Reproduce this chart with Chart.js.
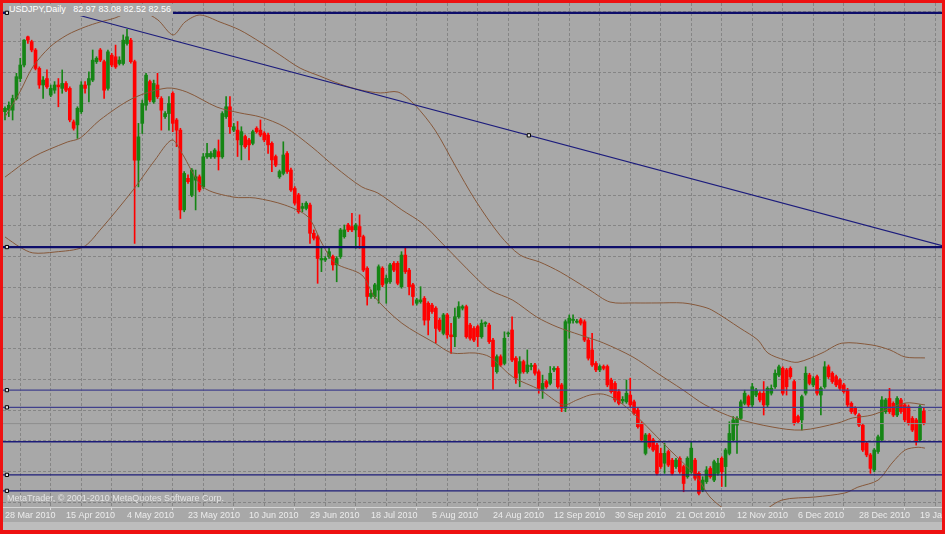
<!DOCTYPE html>
<html>
<head>
<title>USDJPY Daily</title>
<style>
  body { margin: 0; background: #ee1111; width: 945px; height: 534px; overflow: hidden; }
  #frame { position: absolute; left: 3px; top: 3px; width: 939px; height: 527px; background: #bdbdbd; }
  #c { position: absolute; left: 0; top: 0; background: #a8a8a8; }
  #title {
    position: absolute; left: 6px; top: 1px; height: 12px; line-height: 12px;
    padding-right: 2px; background: #a8a8a8; color: #ffffff;
    font: 9px "Liberation Sans", Arial, sans-serif; white-space: pre;
  }
  #copy {
    position: absolute; left: 4px; top: 490px; line-height: 11px; color: #e4e4e4;
    font: 9px "Liberation Sans", Arial, sans-serif; white-space: pre;
  }
</style>
<script src="https://cdn.jsdelivr.net/npm/chart.js"></script>
</head>
<body>
<div id="frame">
  <canvas id="c" width="939" height="519"></canvas>
  <div id="title">USDJPY,Daily   82.97 83.08 82.52 82.56</div>
  <div id="copy">MetaTrader, © 2001-2010 MetaQuotes Software Corp.</div>
</div>
<script>
// date labels, one every 16 bars
const dates = ['28 Mar 2010', '15 Apr 2010', '4 May 2010', '23 May 2010', '10 Jun 2010', '29 Jun 2010',
  '18 Jul 2010', '5 Aug 2010', '24 Aug 2010', '12 Sep 2010', '30 Sep 2010', '21 Oct 2010',
  '12 Nov 2010', '6 Dec 2010', '28 Dec 2010', '19 Jan 2011'];

const opens = [
  92.72,92.77,92.77,93.15,93.80,94.24,95.16,95.00,94.73,94.13,
  93.59,93.80,93.26,93.42,93.59,93.48,93.64,93.48,92.39,92.29,
  92.72,93.59,93.59,93.75,94.35,94.73,94.35,93.48,94.56,94.51,
  94.29,94.29,94.94,95.05,94.35,91.14,92.34,92.93,93.70,93.04,
  93.59,93.15,92.56,92.66,93.32,92.45,92.12,89.52,90.55,90.00,
  90.49,90.60,90.27,91.25,91.25,91.25,91.42,91.25,92.56,92.88,
  92.12,92.12,91.64,91.91,91.80,91.69,92.18,92.12,92.02,91.96,
  91.69,91.26,90.60,90.71,91.36,90.82,90.22,90.01,89.57,89.57,
  89.68,88.76,88.65,87.89,87.89,88.00,88.00,87.73,88.00,88.65,
  89.03,88.98,88.87,88.98,88.65,87.62,86.70,86.70,86.91,87.62,
  87.13,87.18,87.78,87.78,87.02,88.05,87.56,87.08,86.48,86.53,
  86.64,86.48,86.42,86.32,85.93,85.50,86.10,85.45,85.39,86.04,
  86.32,86.37,85.77,85.66,85.72,85.39,85.81,85.77,85.28,84.25,
  84.74,84.52,85.48,85.61,84.69,84.20,84.58,84.25,84.42,84.47,
  84.25,83.67,83.93,83.87,84.31,84.36,83.82,83.06,85.83,85.92,
  85.86,85.94,85.88,85.28,84.96,84.52,84.31,84.42,84.42,83.98,
  83.87,83.60,83.30,83.27,83.49,83.27,83.00,82.57,81.59,82.19,
  82.03,81.86,81.59,81.27,81.65,81.37,81.16,81.43,81.16,80.83,
  80.99,81.37,80.94,80.40,80.67,81.10,80.72,80.94,81.43,81.16,
  81.59,82.03,82.51,82.73,83.22,83.44,83.17,83.49,83.55,83.55,
  83.17,83.55,83.76,84.14,84.36,84.31,84.36,83.93,82.79,82.68,
  83.55,84.14,83.82,84.09,83.49,83.76,84.41,84.20,84.09,83.98,
  83.82,83.65,83.22,83.06,82.84,82.51,81.92,81.54,81.05,81.65,
  82.03,82.95,83.38,83.22,82.84,83.33,83.17,83.11,82.73,82.68,
  82.03,82.97
];
const highs = [
  92.88,93.04,93.26,93.97,94.46,95.07,95.18,95.05,94.78,94.18,
  93.86,94.08,93.59,93.70,93.80,94.08,93.70,93.53,92.45,92.88,
  93.70,93.70,94.02,94.73,94.51,94.78,94.40,94.73,94.62,94.89,
  94.51,95.22,95.40,95.11,94.40,92.34,93.10,93.97,93.75,93.75,
  93.97,93.21,92.72,93.21,93.37,92.50,92.18,90.77,90.66,90.87,
  90.82,90.66,91.36,91.69,91.42,91.52,91.80,92.72,93.21,93.21,
  92.34,92.40,92.23,91.96,91.85,92.12,92.23,92.45,92.07,92.02,
  91.74,91.31,90.82,91.74,91.42,90.88,90.28,90.06,89.74,89.79,
  89.74,88.87,88.70,88.32,88.00,88.27,88.05,88.00,88.92,89.03,
  89.08,89.41,89.08,89.36,88.70,87.67,86.91,87.13,87.73,87.67,
  87.40,87.78,87.84,87.84,88.16,88.32,87.62,87.13,86.64,87.02,
  86.70,86.53,86.48,86.37,85.99,86.15,86.15,85.83,86.32,86.53,
  86.42,86.42,85.83,85.72,85.77,85.94,85.88,85.83,85.34,84.80,
  84.80,85.55,85.55,86.04,84.74,84.74,84.63,84.96,84.52,84.52,
  84.31,84.14,83.98,84.42,84.42,84.42,83.87,85.94,86.10,86.10,
  85.96,85.99,85.94,85.34,85.50,84.58,84.47,84.47,84.47,84.04,
  83.93,83.67,83.44,83.98,84.04,83.33,83.06,82.62,82.24,82.24,
  82.08,81.92,81.76,81.92,81.70,81.43,81.43,81.48,81.21,81.48,
  81.97,81.43,80.99,80.83,81.16,81.16,81.37,81.43,81.48,81.75,
  82.62,82.79,82.79,83.33,83.65,83.49,83.87,83.71,83.60,83.93,
  83.76,83.82,84.31,84.47,84.41,84.36,84.41,83.98,82.84,83.49,
  84.41,84.20,84.09,84.14,83.76,84.58,84.47,84.25,84.14,84.03,
  83.87,83.71,83.27,83.11,82.89,82.57,81.97,81.59,81.75,82.19,
  83.44,83.38,83.71,83.27,83.44,83.38,83.22,83.17,82.79,82.73,
  83.17,83.08
];
const lows = [
  92.45,92.56,92.45,93.10,93.70,94.18,94.94,94.67,94.08,93.48,
  93.15,93.48,93.21,93.32,92.88,93.32,93.37,92.39,92.12,91.85,
  92.66,93.32,93.04,93.70,94.29,94.35,93.15,93.42,94.18,94.13,
  94.24,94.24,94.89,94.30,88.43,90.27,92.01,92.77,93.04,92.99,
  93.15,92.12,92.50,92.12,92.07,91.58,89.24,89.46,90.38,89.95,
  89.52,90.11,90.22,91.20,91.20,91.20,90.82,91.20,92.50,92.01,
  92.07,91.26,91.15,91.53,91.15,91.64,92.02,91.91,91.74,91.36,
  90.77,90.93,90.55,90.66,90.71,90.12,89.68,89.41,89.46,89.52,
  88.43,88.54,87.13,87.51,87.84,87.94,87.56,87.18,87.94,88.60,
  88.81,88.81,88.27,88.27,87.51,86.42,86.64,86.64,86.48,87.02,
  86.48,87.13,87.51,87.08,86.97,87.45,86.75,86.42,86.42,86.48,
  85.77,85.45,86.15,85.18,85.56,85.45,85.34,84.85,85.07,85.99,
  86.26,85.34,85.28,85.23,85.07,85.34,85.72,85.17,83.67,84.20,
  84.42,84.47,85.39,84.58,83.87,83.76,84.20,84.20,84.31,84.14,
  83.55,83.38,83.71,83.82,84.25,83.71,82.95,82.95,85.34,85.83,
  85.83,85.77,85.23,84.63,84.42,84.25,84.25,84.31,83.76,83.55,
  83.27,83.17,83.22,83.22,83.11,82.84,82.41,81.97,81.54,81.76,
  81.65,80.89,81.10,80.94,81.16,80.89,81.10,80.94,80.34,80.78,
  80.94,80.72,80.24,80.34,80.61,80.78,80.67,80.88,80.51,80.51,
  81.54,81.97,81.59,82.68,83.17,83.11,83.11,83.44,83.27,82.84,
  83.11,83.49,83.71,84.09,83.49,83.49,84.03,82.51,82.57,82.35,
  83.49,83.82,83.76,83.49,82.84,83.71,84.03,83.87,83.76,83.65,
  83.55,83.11,82.89,82.84,82.46,81.65,81.48,80.94,80.99,81.59,
  81.97,82.89,82.89,82.79,82.79,82.89,82.62,82.51,82.30,81.86,
  81.97,82.52
];
const closes = [
  92.83,92.93,93.15,93.86,94.24,95.05,95.05,94.73,94.13,93.59,
  93.75,93.53,93.48,93.59,93.53,93.64,93.42,92.45,92.18,92.83,
  93.59,93.48,93.80,94.40,94.46,94.40,93.42,94.67,94.24,94.18,
  94.40,95.05,95.16,94.35,91.14,91.90,92.99,93.91,93.10,93.64,
  93.21,92.77,92.66,92.99,92.34,92.12,89.52,90.71,90.44,90.82,
  90.60,90.17,91.25,91.36,91.36,91.47,91.25,92.66,92.88,92.23,
  92.23,91.80,92.07,91.58,91.64,92.07,92.07,91.96,91.80,91.64,
  91.15,90.98,90.77,91.31,90.77,90.17,89.74,89.46,89.63,89.74,
  88.76,88.60,87.94,87.94,87.94,88.16,87.73,87.94,88.87,88.87,
  88.87,88.87,89.03,88.65,87.56,86.70,86.80,87.08,87.67,87.08,
  87.29,87.73,87.56,87.13,88.05,87.51,87.02,86.70,86.59,86.59,
  85.93,85.93,86.21,85.66,85.61,86.10,85.45,85.39,86.04,86.37,
  86.37,85.39,85.34,85.28,85.39,85.83,85.85,85.23,84.42,84.74,
  84.47,85.34,85.50,84.63,84.04,84.58,84.25,84.47,84.45,84.20,
  83.71,83.87,83.76,84.20,84.36,83.76,83.06,85.88,85.99,85.96,
  85.90,85.83,85.28,84.69,84.47,84.31,84.42,84.36,83.82,83.60,
  83.33,83.22,83.35,83.55,83.17,82.89,82.46,82.03,82.19,81.81,
  81.70,80.94,81.16,81.59,81.21,80.94,81.37,80.99,80.61,81.43,
  81.76,80.78,80.29,80.72,81.05,80.83,81.32,81.27,80.99,81.70,
  82.24,82.68,82.73,83.27,83.55,83.17,83.76,83.65,83.33,83.17,
  83.71,83.71,84.20,84.41,83.55,83.76,84.09,82.57,82.62,83.44,
  84.20,83.87,84.03,83.55,83.71,84.41,84.09,83.93,83.82,83.71,
  83.60,83.17,82.95,82.89,82.51,81.70,81.54,81.10,81.70,82.13,
  83.33,83.33,82.95,82.84,83.38,82.95,82.68,82.57,82.35,81.97,
  83.11,82.56
];

// Bollinger bands: [bar index, price]
const upperBand = [[0,92.55],[3.9,93.36],[7.3,94.18],[11.8,94.83],[16.3,95.22],[21,95.48],[24.9,95.64],
  [28.8,95.77],[32.8,95.97],[36.2,95.97],[40.1,95.71],[44.1,95.22],[47.2,95.64],[51.1,95.87],[56.4,95.64],
  [61.6,95.38],[66.9,94.99],[72.1,94.57],[77.4,94.14],[82.6,93.88],[87.9,93.62],[93.1,93.43],[98.4,93.33],
  [103.1,93.36],[107.5,92.94],[112.8,92.12],[118,90.98],[123.3,89.85],[129.8,88.7],[135.1,88.05],
  [140.3,87.82],[145.6,87.5],[153.4,86.91],[158.7,86.52],[165.2,86.49],[171,86.49],[177.8,86.49],
  [182.3,86.39],[185.4,86.26],[192.8,85.67],[197.5,85.28],[200.1,84.86],[204.6,84.63],[208,84.56],
  [214.3,84.86],[219.5,85.18],[227.4,85.12],[232.1,84.96],[236.1,84.73],[241.3,84.7]];
const middleBand = [[0,90.59],[7.3,91.24],[16.3,91.73],[19.7,91.86],[24.9,92.45],[33.6,93.16],[42.5,93.49],
  [47.7,93.36],[55.6,92.87],[61.6,92.68],[66.9,92.55],[73.4,92.22],[80.5,91.57],[86.6,90.92],[93.6,90.27],
  [97.8,90.07],[104.1,89.52],[109.4,89.09],[114.6,88.44],[123.3,87.34],[127.2,86.91],[133.2,86.58],
  [139.5,86.03],[144.8,85.71],[150.8,85.45],[156.9,85.19],[164.7,84.73],[171,84.21],[177.8,83.66],
  [183.6,83.17],[191.5,82.74],[201.2,82.45],[209,82.35],[218.5,82.58],[222.2,82.74],[227.4,82.84],
  [236.1,83.23],[241.3,83.17]];
const lowerBand = [[0,88.64],[3.9,88.31],[7.3,88.12],[13.1,88.15],[20.5,88.31],[24.9,88.86],[33.6,90.17],
  [39.3,91.14],[43.8,91.8],[46.4,91.37],[51.9,90.27],[59.8,89.94],[65.6,89.91],[73.4,89.68],[79.5,89.29],
  [83.1,88.44],[86.6,87.79],[93.6,87.4],[97,86.68],[104.1,85.83],[112.8,85.18],[117.2,84.86],[123.3,84.86],
  [127.2,84.73],[133.2,84.08],[140.3,83.66],[146.4,83.17],[150,83.33],[153.4,83.49],[156.9,83.52],
  [160.5,83.33],[165.8,82.78],[171,82.13],[174.4,81.7],[181.5,80.82],[184.9,80.17],[190.2,79.68],
  [196.7,79.58],[203.8,80.07],[212.5,80.17],[220.3,80.3],[223.7,80.49],[229,80.72],[232.7,81.28],
  [236.1,81.7],[239.5,81.79],[241.3,81.76]];

// horizontal levels and the trend line
const levels = [95.94, 88.31, 83.65, 83.09, 81.97, 80.89, 80.37];
const trendLine = [[19.15, 95.87], [250, 88.22]];
const trendMid = [137.4, 91.95];
const priceGrid = [80, 81, 82, 83, 84, 85, 86, 87, 88, 89, 90, 91, 92, 93, 94, 95, 96];

const X_MIN = -0.5246, X_MAX = 245.77;
const Y_MIN = 79.8436, Y_MAX = 96.2606;
const FONT = '"Liberation Sans", Arial, sans-serif';

const UP = '#158515', DOWN = '#ff0000';
const candleColors = closes.map((c, i) => c >= opens[i] ? UP : DOWN);
const toXY = a => a.map(p => ({x: p[0], y: p[1]}));

const levelSets = levels.map((v, i) => ({
  type: 'line',
  data: [{x: X_MIN - 2, y: v}, {x: X_MAX + 2, y: v}],
  borderColor: i < 2 ? '#0d0d6a' : (i < 4 ? '#40408c' : '#1c1c78'),
  borderWidth: i < 2 ? 2.2 : 1.4,
  pointRadius: 0,
  order: 1
}));

const anchors = levels.filter((v, i) => i !== 4).map(v => ({x: 0.5, y: v}));
anchors.push({x: trendMid[0], y: trendMid[1]});

new Chart(document.getElementById('c'), {
  type: 'bar',
  data: {
    datasets: [
      {
        type: 'line', data: anchors, showLine: false, pointStyle: 'rect',
        pointRadius: 2.3, pointBackgroundColor: '#e6e6e6', pointBorderColor: '#000000',
        pointBorderWidth: 1, order: 0
      },
      ...levelSets,
      {
        type: 'line', data: toXY(trendLine), borderColor: '#1c1c7c', borderWidth: 1.2,
        pointRadius: 0, order: 1
      },
      { type: 'line', data: toXY(upperBand), borderColor: '#86583a', borderWidth: 1, pointRadius: 0, tension: 0.3, order: 2 },
      { type: 'line', data: toXY(middleBand), borderColor: '#86583a', borderWidth: 1, pointRadius: 0, tension: 0.3, order: 2 },
      { type: 'line', data: toXY(lowerBand), borderColor: '#86583a', borderWidth: 1, pointRadius: 0, tension: 0.3, order: 2 },
      {
        type: 'line',
        data: [{x: X_MIN - 2, y: closes[closes.length - 1]}, {x: X_MAX + 2, y: closes[closes.length - 1]}],
        borderColor: '#8e8e8e', borderWidth: 1, pointRadius: 0, order: 3
      },
      {
        type: 'bar', data: opens.map((o, i) => ({x: i, y: [o, closes[i]]})),
        backgroundColor: candleColors, borderWidth: 0, barThickness: 3, grouped: false,
        minBarLength: 1, order: 4
      },
      {
        type: 'bar', data: opens.map((o, i) => ({x: i, y: [lows[i], highs[i]]})),
        backgroundColor: candleColors, borderWidth: 0, barThickness: 1, grouped: false,
        order: 5
      }
    ]
  },
  options: {
    responsive: false,
    animation: false,
    events: [],
    layout: { padding: 0, autoPadding: false },
    plugins: { legend: { display: false }, tooltip: { enabled: false } },
    scales: {
      x: {
        type: 'linear', min: X_MIN, max: X_MAX, offset: false, bounds: 'data',
        afterBuildTicks: s => {
          const t = [];
          for (let v = 0; v <= (dates.length - 1) * 16; v += 8) t.push({value: v});
          s.ticks = t;
        },
        afterFit: s => { s.height = 15; s.paddingLeft = 0; s.paddingRight = 0; },
        ticks: {
          autoSkip: false, maxRotation: 0, minRotation: 0, align: 'start', padding: 0,
          color: '#ececec', font: { family: FONT, size: 9 },
          callback: v => (v % 16 === 0 ? dates[v / 16] : '')
        },
        grid: {
          color: '#858585', lineWidth: 1, drawTicks: true, tickLength: 3,
          tickColor: c => (c.tick && c.tick.value % 16 === 0 ? '#dadada' : 'rgba(0,0,0,0)')
        },
        border: { display: true, color: '#d4d4d4', width: 1, dash: [3, 2] }
      },
      y: {
        type: 'linear', min: Y_MIN, max: Y_MAX, bounds: 'data', beginAtZero: false,
        afterBuildTicks: s => { s.ticks = priceGrid.map(v => ({value: v})); },
        afterFit: s => { s.width = 0; s.paddingTop = 0; s.paddingBottom = 0; },
        ticks: { display: false },
        grid: { color: '#858585', lineWidth: 1, drawTicks: false },
        border: { display: false, dash: [3, 2] }
      }
    }
  }
});
</script>
</body>
</html>
